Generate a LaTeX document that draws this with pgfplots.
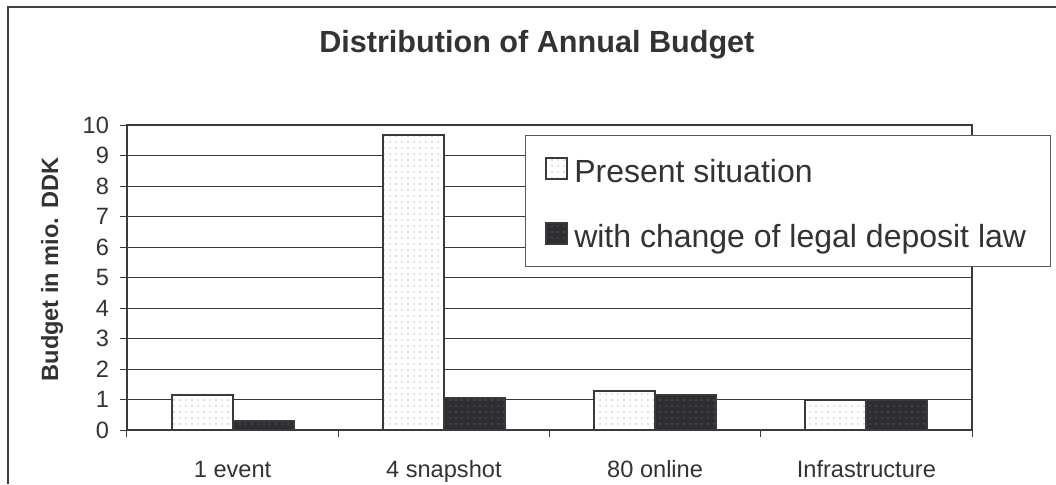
\documentclass[border=0pt]{standalone}
\usepackage{pgfplots}
\pgfplotsset{compat=1.18}
\usetikzlibrary{patterns.meta}
\usepackage{fontspec}
\setmainfont{Liberation Sans}

\definecolor{ink}{HTML}{333333}
\definecolor{frame}{HTML}{3A3A3D}
\definecolor{barDark}{HTML}{2E2E32}

% square legend swatch for the bar series
\pgfplotsset{sq legend/.style={legend image code/.code={%
  \draw[##1, line width=0.9pt] (2.5pt,-5.25pt) rectangle (13pt,5.25pt);}}}

\begin{document}
\begin{tikzpicture}[x=1pt,y=1pt]
\path[use as bounding box] (0,0) rectangle (528,242);
% outer chart frame
\draw[line width=0.6pt, black!75] (4,0) -- (4,238.5) -- (528,238.5);
\begin{axis}[
  at={(63.5pt,27pt)}, anchor=south west,
  scale only axis, width=422.5pt, height=152.5pt,
  xmin=-0.5, xmax=3.5, ymin=0, ymax=10,
  ybar=0pt, bar width=30.5pt,
  xtick={-0.5,0.5,1.5,2.5,3.5},
  x tick label as interval,
  xticklabels={1 event,4 snapshot,80 online,Infrastructure},
  ytick={0,1,...,10},
  xtick pos=bottom, ytick pos=left,
  tick align=outside, major tick length=3.5pt,
  tick style={draw=frame, line width=0.5pt},
  axis line style={draw=frame, line width=1pt},
  ymajorgrids,
  major grid style={draw=frame, line width=0.5pt},
  /pgf/number format/assume math mode=true,
  ticklabel style={font=\fontsize{11.8}{14}\selectfont, text=ink},
  xticklabel style={anchor=base, yshift=-20pt},
  yticklabel style={xshift=-2pt},
  ylabel={Budget in mio. DDK},
  ylabel style={at={(axis description cs:-0.0888,0.526)}, anchor=center,
    font=\bfseries\fontsize{11.8}{14}\selectfont, text=ink},
  title={Distribution of Annual Budget},
  title style={at={(axis description cs:0.485,1.20)}, anchor=base,
    font=\bfseries\fontsize{15.3}{18}\selectfont, text=ink},
  legend style={at={(axis description cs:0.471,0.967)}, anchor=north west,
    draw=black!65, line width=0.5pt, fill=white,
    font=\fontsize{16}{19}\selectfont, text=ink,
    inner xsep=10pt, inner ysep=6pt,
    row sep=11.5pt,
    nodes={inner sep=2pt, text height=15.25pt, text depth=1.75pt},
    /tikz/every odd column/.append style={column sep=1pt}},
  legend cell align=left,
]
\addplot[sq legend, draw=frame, line width=1pt, fill=white,
  postaction={pattern={Dots[radius=0.35pt,distance=3pt]}, pattern color=black!50}]
  coordinates {(0,1.16) (1,9.68) (2,1.27) (3,1.0)};
\addlegendentry{Present situation}
\addplot[sq legend, draw=frame, line width=1pt, fill=barDark,
  postaction={pattern={Dots[radius=0.35pt,distance=3pt]}, pattern color=black!45!white}]
  coordinates {(0,0.31) (1,1.05) (2,1.15) (3,1.0)};
\addlegendentry{with change of legal deposit law}
\end{axis}
\end{tikzpicture}
\end{document}
